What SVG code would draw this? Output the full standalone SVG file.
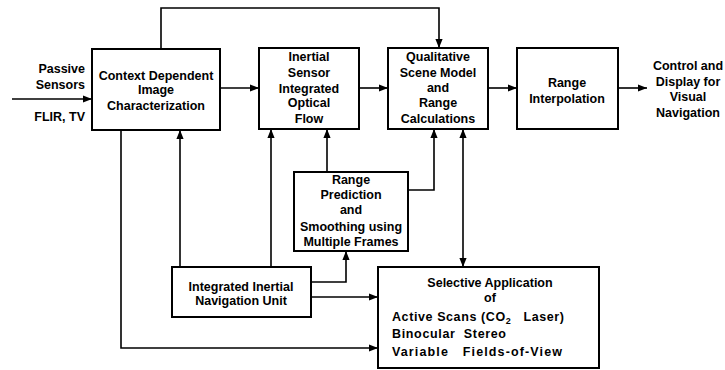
<svg xmlns="http://www.w3.org/2000/svg" width="725" height="370" viewBox="0 0 725 370">
<style>
.box{fill:#fff;stroke:#000;stroke-width:2}
.c{fill:none;stroke:#000;stroke-width:1.6}
text{font-family:"Liberation Sans",Arial,sans-serif;font-weight:bold;font-size:12.5px;fill:#000}
.m{text-anchor:middle}
.e{text-anchor:end}
</style>
<defs>
<marker id="ah" viewBox="0 0 10 8" refX="10" refY="4" markerWidth="9" markerHeight="8" markerUnits="userSpaceOnUse" orient="auto-start-reverse">
<path d="M0,0 L10,4 L0,8 z" fill="#000"/>
</marker>
</defs>
<rect width="725" height="370" fill="#fff"/>
<g id="connectors">
<path class="c" d="M12,99 H92" marker-end="url(#ah)"/>
<path class="c" d="M220,88 H259" marker-end="url(#ah)"/>
<path class="c" d="M359,88 H388" marker-end="url(#ah)"/>
<path class="c" d="M488,88 H517" marker-end="url(#ah)"/>
<path class="c" d="M618,88 H647" marker-end="url(#ah)"/>
<path class="c" d="M161,49 V8 H439 V48" marker-end="url(#ah)"/>
<path class="c" d="M180,267 V130" marker-end="url(#ah)"/>
<path class="c" d="M271,267 V129" marker-end="url(#ah)"/>
<path class="c" d="M327,172 V129" marker-end="url(#ah)"/>
<path class="c" d="M408,190 H434 V129" marker-end="url(#ah)"/>
<path class="c" d="M463,129 V267" marker-start="url(#ah)" marker-end="url(#ah)"/>
<path class="c" d="M311,282 H346 V251" marker-end="url(#ah)"/>
<path class="c" d="M311,297 H378" marker-end="url(#ah)"/>
<path class="c" d="M121,130 V348 H378" marker-end="url(#ah)"/>
</g>
<g id="input-label">
<text class="e" x="85" y="73">Passive</text>
<text class="e" x="85" y="89">Sensors</text>
<text class="e" x="85" y="121">FLIR, TV</text>
</g>
<g id="context">
<rect class="box" x="92" y="49" width="128" height="81"/>
<text class="m" x="156" y="80">Context Dependent</text>
<text class="m" x="156" y="94">Image</text>
<text class="m" x="156" y="110">Characterization</text>
</g>
<g id="inertial-flow">
<rect class="box" x="259" y="48" width="100" height="81"/>
<text class="m" x="309" y="61">Inertial</text>
<text class="m" x="309" y="77">Sensor</text>
<text class="m" x="309" y="93">Integrated</text>
<text class="m" x="309" y="107">Optical</text>
<text class="m" x="309" y="123">Flow</text>
</g>
<g id="scene-model">
<rect class="box" x="388" y="48" width="100" height="81"/>
<text class="m" x="438" y="61">Qualitative</text>
<text class="m" x="438" y="77">Scene Model</text>
<text class="m" x="438" y="92">and</text>
<text class="m" x="438" y="107">Range</text>
<text class="m" x="438" y="123">Calculations</text>
</g>
<g id="range-interp">
<rect class="box" x="517" y="48" width="101" height="81"/>
<text class="m" x="567" y="87">Range</text>
<text class="m" x="567" y="103">Interpolation</text>
</g>
<g id="output-label">
<text class="m" x="688" y="70">Control and</text>
<text class="m" x="688" y="86">Display for</text>
<text class="m" x="688" y="101">Visual</text>
<text class="m" x="688" y="117">Navigation</text>
</g>
<g id="range-pred">
<rect class="box" x="294" y="172" width="114" height="79"/>
<text class="m" x="351" y="184">Range</text>
<text class="m" x="351" y="199">Prediction</text>
<text class="m" x="351" y="214">and</text>
<text class="m" x="351" y="231">Smoothing using</text>
<text class="m" x="351" y="246">Multiple Frames</text>
</g>
<g id="nav-unit">
<rect class="box" x="172" y="267" width="139" height="50"/>
<text class="m" x="241" y="291">Integrated Inertial</text>
<text class="m" x="241" y="305">Navigation Unit</text>
</g>
<g id="selective">
<rect class="box" x="378" y="267" width="221" height="101"/>
<text class="m" x="490" y="287">Selective Application</text>
<text class="m" x="490" y="302">of</text>
<text x="392" y="321" xml:space="preserve" textLength="172" lengthAdjust="spacing">Active Scans (CO<tspan font-size="9" dy="3">2</tspan><tspan dy="-3">   Laser)</tspan></text>
<text x="392" y="338" xml:space="preserve" textLength="114" lengthAdjust="spacing">Binocular  Stereo</text>
<text x="392" y="356" xml:space="preserve" textLength="170" lengthAdjust="spacing">Variable   Fields-of-View</text>
</g>
</svg>
